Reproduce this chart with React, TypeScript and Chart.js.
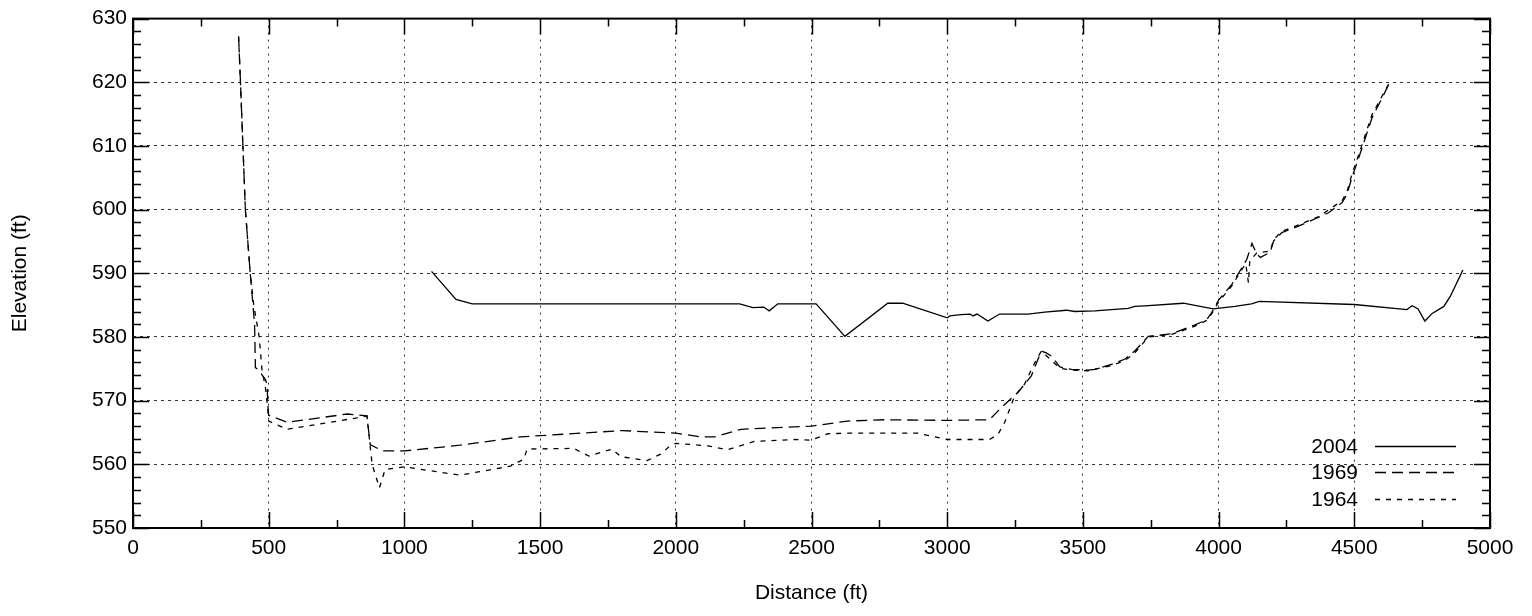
import React, { useEffect, useRef } from "react";
import { Chart, registerables } from "chart.js";

Chart.register(...registerables);

// ---- Data (distance ft, elevation ft) ----
const dist2004 = [1100, 1190, 1250, 2235, 2284, 2324, 2344, 2376, 2517, 2623, 2781, 2836, 3000, 3010, 3050, 3085, 3095, 3110, 3150, 3193, 3298, 3359, 3439, 3470, 3544, 3667, 3691, 3728, 3870, 3980, 4060, 4121, 4150, 4500, 4694, 4713, 4735, 4760, 4787, 4830, 4854, 4900];
const elev2004 = [590.3, 585.9, 585.2, 585.2, 584.6, 584.7, 584.1, 585.2, 585.2, 580.1, 585.3, 585.3, 583.0, 583.3, 583.5, 583.6, 583.3, 583.6, 582.5, 583.6, 583.6, 583.9, 584.2, 584.0, 584.1, 584.5, 584.8, 584.9, 585.3, 584.4, 584.8, 585.2, 585.6, 585.1, 584.3, 584.9, 584.4, 582.5, 583.7, 584.8, 586.4, 590.5];

const dist1969 = [389, 396, 405, 414, 432, 448, 451, 461, 488, 494, 498, 500, 568, 789, 862, 874, 920, 1000, 1205, 1426, 1500, 1803, 2000, 2092, 2142, 2240, 2500, 2633, 2769, 3000, 3156, 3199, 3261, 3310, 3347, 3365, 3384, 3415, 3458, 3519, 3544, 3605, 3654, 3691, 3741, 3827, 3913, 3956, 3974, 4000, 4048, 4086, 4104, 4123, 4141, 4154, 4190, 4203, 4233, 4283, 4369, 4405, 4455, 4473, 4491, 4516, 4541, 4565, 4602, 4633];
const elev1969 = [627.2, 620, 610, 600, 590, 582, 575.2, 574.9, 573.3, 572.5, 568.6, 567.7, 566.6, 567.9, 567.6, 563.1, 562.1, 562.1, 563.0, 564.3, 564.5, 565.3, 564.9, 564.3, 564.3, 565.5, 566.0, 566.8, 567.0, 566.9, 567.0, 568.9, 571.3, 573.9, 577.8, 577.5, 577.0, 575.3, 574.9, 574.8, 574.9, 575.7, 576.5, 577.8, 580.1, 580.5, 581.9, 582.7, 583.8, 585.8, 588.2, 590.9, 592.2, 594.7, 593.0, 592.5, 593.3, 595.1, 596.4, 597.2, 598.8, 599.5, 601.1, 602.4, 605.0, 608.1, 611.3, 614.4, 617.5, 620.2];

const dist1964 = [389, 396, 405, 414, 432, 445, 465, 475, 488, 496, 500, 568, 826, 862, 881, 908, 929, 1000, 1205, 1390, 1440, 1452, 1624, 1655, 1680, 1766, 1797, 1895, 1944, 1981, 2000, 2117, 2190, 2289, 2437, 2500, 2560, 2633, 2891, 3000, 3156, 3187, 3212, 3248, 3285, 3322, 3347, 3415, 3458, 3519, 3605, 3654, 3691, 3741, 3827, 3913, 3956, 3974, 4000, 4048, 4086, 4100, 4110, 4115, 4141, 4190, 4203, 4233, 4283, 4369, 4455, 4473, 4491, 4516, 4541, 4565, 4602, 4633];
const elev1964 = [627.2, 620, 610, 600, 590, 585, 580, 575, 572, 569, 566.8, 565.5, 567.3, 567.6, 560, 556.3, 559.2, 559.6, 558.3, 559.7, 560.8, 562.4, 562.5, 561.8, 561.3, 562.4, 561.2, 560.6, 561.6, 563.0, 563.3, 562.9, 562.3, 563.6, 563.9, 563.8, 564.8, 564.9, 564.9, 563.9, 563.9, 564.7, 566.6, 570.7, 572.6, 575.9, 577.8, 575.1, 574.8, 574.7, 575.5, 576.3, 577.5, 580.0, 580.4, 581.7, 582.6, 583.6, 585.5, 588.0, 590.6, 591.5, 588.5, 592.0, 593.2, 593.5, 595.3, 596.6, 597.4, 598.9, 601.4, 602.8, 605.5, 608.6, 611.8, 614.9, 617.8, 620.2];

const seriesLabels = ["2004", "1969", "1964"];
const xTitle = "Distance (ft)";
const yTitle = "Elevation (ft)";

const FONT = "'Liberation Sans', Arial, Helvetica, sans-serif";
const FS = 21;

const toPoints = (xs: number[], ys: number[]) => xs.map((x, i) => ({ x, y: ys[i] }));

const framePlugin = {
  id: "gnuplotFrame",
  afterDraw(chart: any) {
    const { ctx, chartArea, scales } = chart;
    const { left, right, top, bottom } = chartArea;
    const xs = scales.x;
    const ys = scales.y;
    ctx.save();
    ctx.strokeStyle = "#000";
    ctx.setLineDash([]);
    // ticks (inward, mirrored)
    ctx.lineWidth = 1.5;
    ctx.beginPath();
    for (let v = xs.min; v <= xs.max + 1e-6; v += 250) {
      const major = Math.abs(v % 500) < 1e-6;
      const len = major ? 16 : 8;
      const px = Math.round(xs.getPixelForValue(v)) + 0.5;
      ctx.moveTo(px, bottom);
      ctx.lineTo(px, bottom - len);
      ctx.moveTo(px, top);
      ctx.lineTo(px, top + len);
    }
    for (let v = ys.min; v <= ys.max + 1e-6; v += 2) {
      const major = Math.abs((v - ys.min) % 10) < 1e-6;
      const len = major ? 16 : 8;
      const py = Math.round(ys.getPixelForValue(v)) + 0.5;
      ctx.moveTo(left, py);
      ctx.lineTo(left + len, py);
      ctx.moveTo(right, py);
      ctx.lineTo(right - len, py);
    }
    ctx.stroke();
    // frame
    ctx.lineWidth = 2;
    ctx.strokeRect(left, top, right - left, bottom - top);

    // legend (gnuplot style, bottom-right inside)
    ctx.font = `${FS}px ${FONT}`;
    ctx.fillStyle = "#000";
    ctx.textAlign = "right";
    ctx.textBaseline = "middle";
    const rows = [bottom - 82, bottom - 56, bottom - 29];
    chart.data.datasets.forEach((ds: any, i: number) => {
      const y = rows[i];
      ctx.fillText(ds.label, right - 132, y + 1);
      ctx.beginPath();
      ctx.lineWidth = 1.3;
      ctx.setLineDash(ds.borderDash || []);
      ctx.moveTo(right - 115, y + 0.5);
      ctx.lineTo(right - 34, y + 0.5);
      ctx.stroke();
    });
    ctx.restore();
  },
};

export default function App() {
  const ref = useRef<HTMLCanvasElement | null>(null);
  useEffect(() => {
    if (!ref.current) return;
    const chart = new Chart(ref.current, {
      type: "scatter",
      data: {
        datasets: [
          {
            label: seriesLabels[0],
            data: toPoints(dist2004, elev2004),
            showLine: true,
            borderColor: "#000",
            borderWidth: 1.3,
            pointRadius: 0,
            borderDash: [],
          },
          {
            label: seriesLabels[1],
            data: toPoints(dist1969, elev1969),
            showLine: true,
            borderColor: "#000",
            borderWidth: 1.3,
            pointRadius: 0,
            borderDash: [11, 6],
          },
          {
            label: seriesLabels[2],
            data: toPoints(dist1964, elev1964),
            showLine: true,
            borderColor: "#000",
            borderWidth: 1.3,
            pointRadius: 0,
            borderDash: [5, 6],
          },
        ],
      } as any,
      options: {
        animation: false,
        responsive: false,
        devicePixelRatio: 1,
        layout: { padding: { top: 17, right: 42, left: 0, bottom: 0 } },
        plugins: { legend: { display: false }, tooltip: { enabled: false } },
        scales: {
          x: {
            type: "linear",
            min: 0,
            max: 5000,
            ticks: {
              stepSize: 500,
              color: "#000",
              font: { family: FONT, size: FS },
              padding: 8,
              maxRotation: 0,
              autoSkip: false,
              callback: (v: any) => String(v),
            },
            grid: { color: "#333", lineWidth: 1, drawTicks: false },
            border: { display: false, dash: [2, 5] },
            title: {
              display: true,
              text: xTitle,
              color: "#000",
              font: { family: FONT, size: FS },
              padding: { top: 4, bottom: 10 },
            },
            afterFit: (s: any) => {
              s.height = 88;
            },
          },
          y: {
            type: "linear",
            min: 550,
            max: 630,
            ticks: {
              stepSize: 10,
              color: "#000",
              font: { family: FONT, size: FS },
              padding: 6,
              autoSkip: false,
              callback: (v: any) => String(v),
            },
            grid: { color: "#333", lineWidth: 1, drawTicks: false },
            border: { display: false, dash: [3, 4] },
            title: {
              display: true,
              text: yTitle,
              color: "#000",
              font: { family: FONT, size: FS },
              padding: { top: 8, bottom: 4 },
            },
            afterFit: (s: any) => {
              s.width = 133;
            },
          },
        },
      } as any,
      plugins: [framePlugin],
    });
    return () => chart.destroy();
  }, []);

  return (
    <div style={{ position: "fixed", left: 0, top: 0, width: 1532, height: 616, background: "#fff" }}>
      <canvas ref={ref} width={1532} height={616} style={{ width: 1532, height: 616, display: "block" }} />
    </div>
  );
}
